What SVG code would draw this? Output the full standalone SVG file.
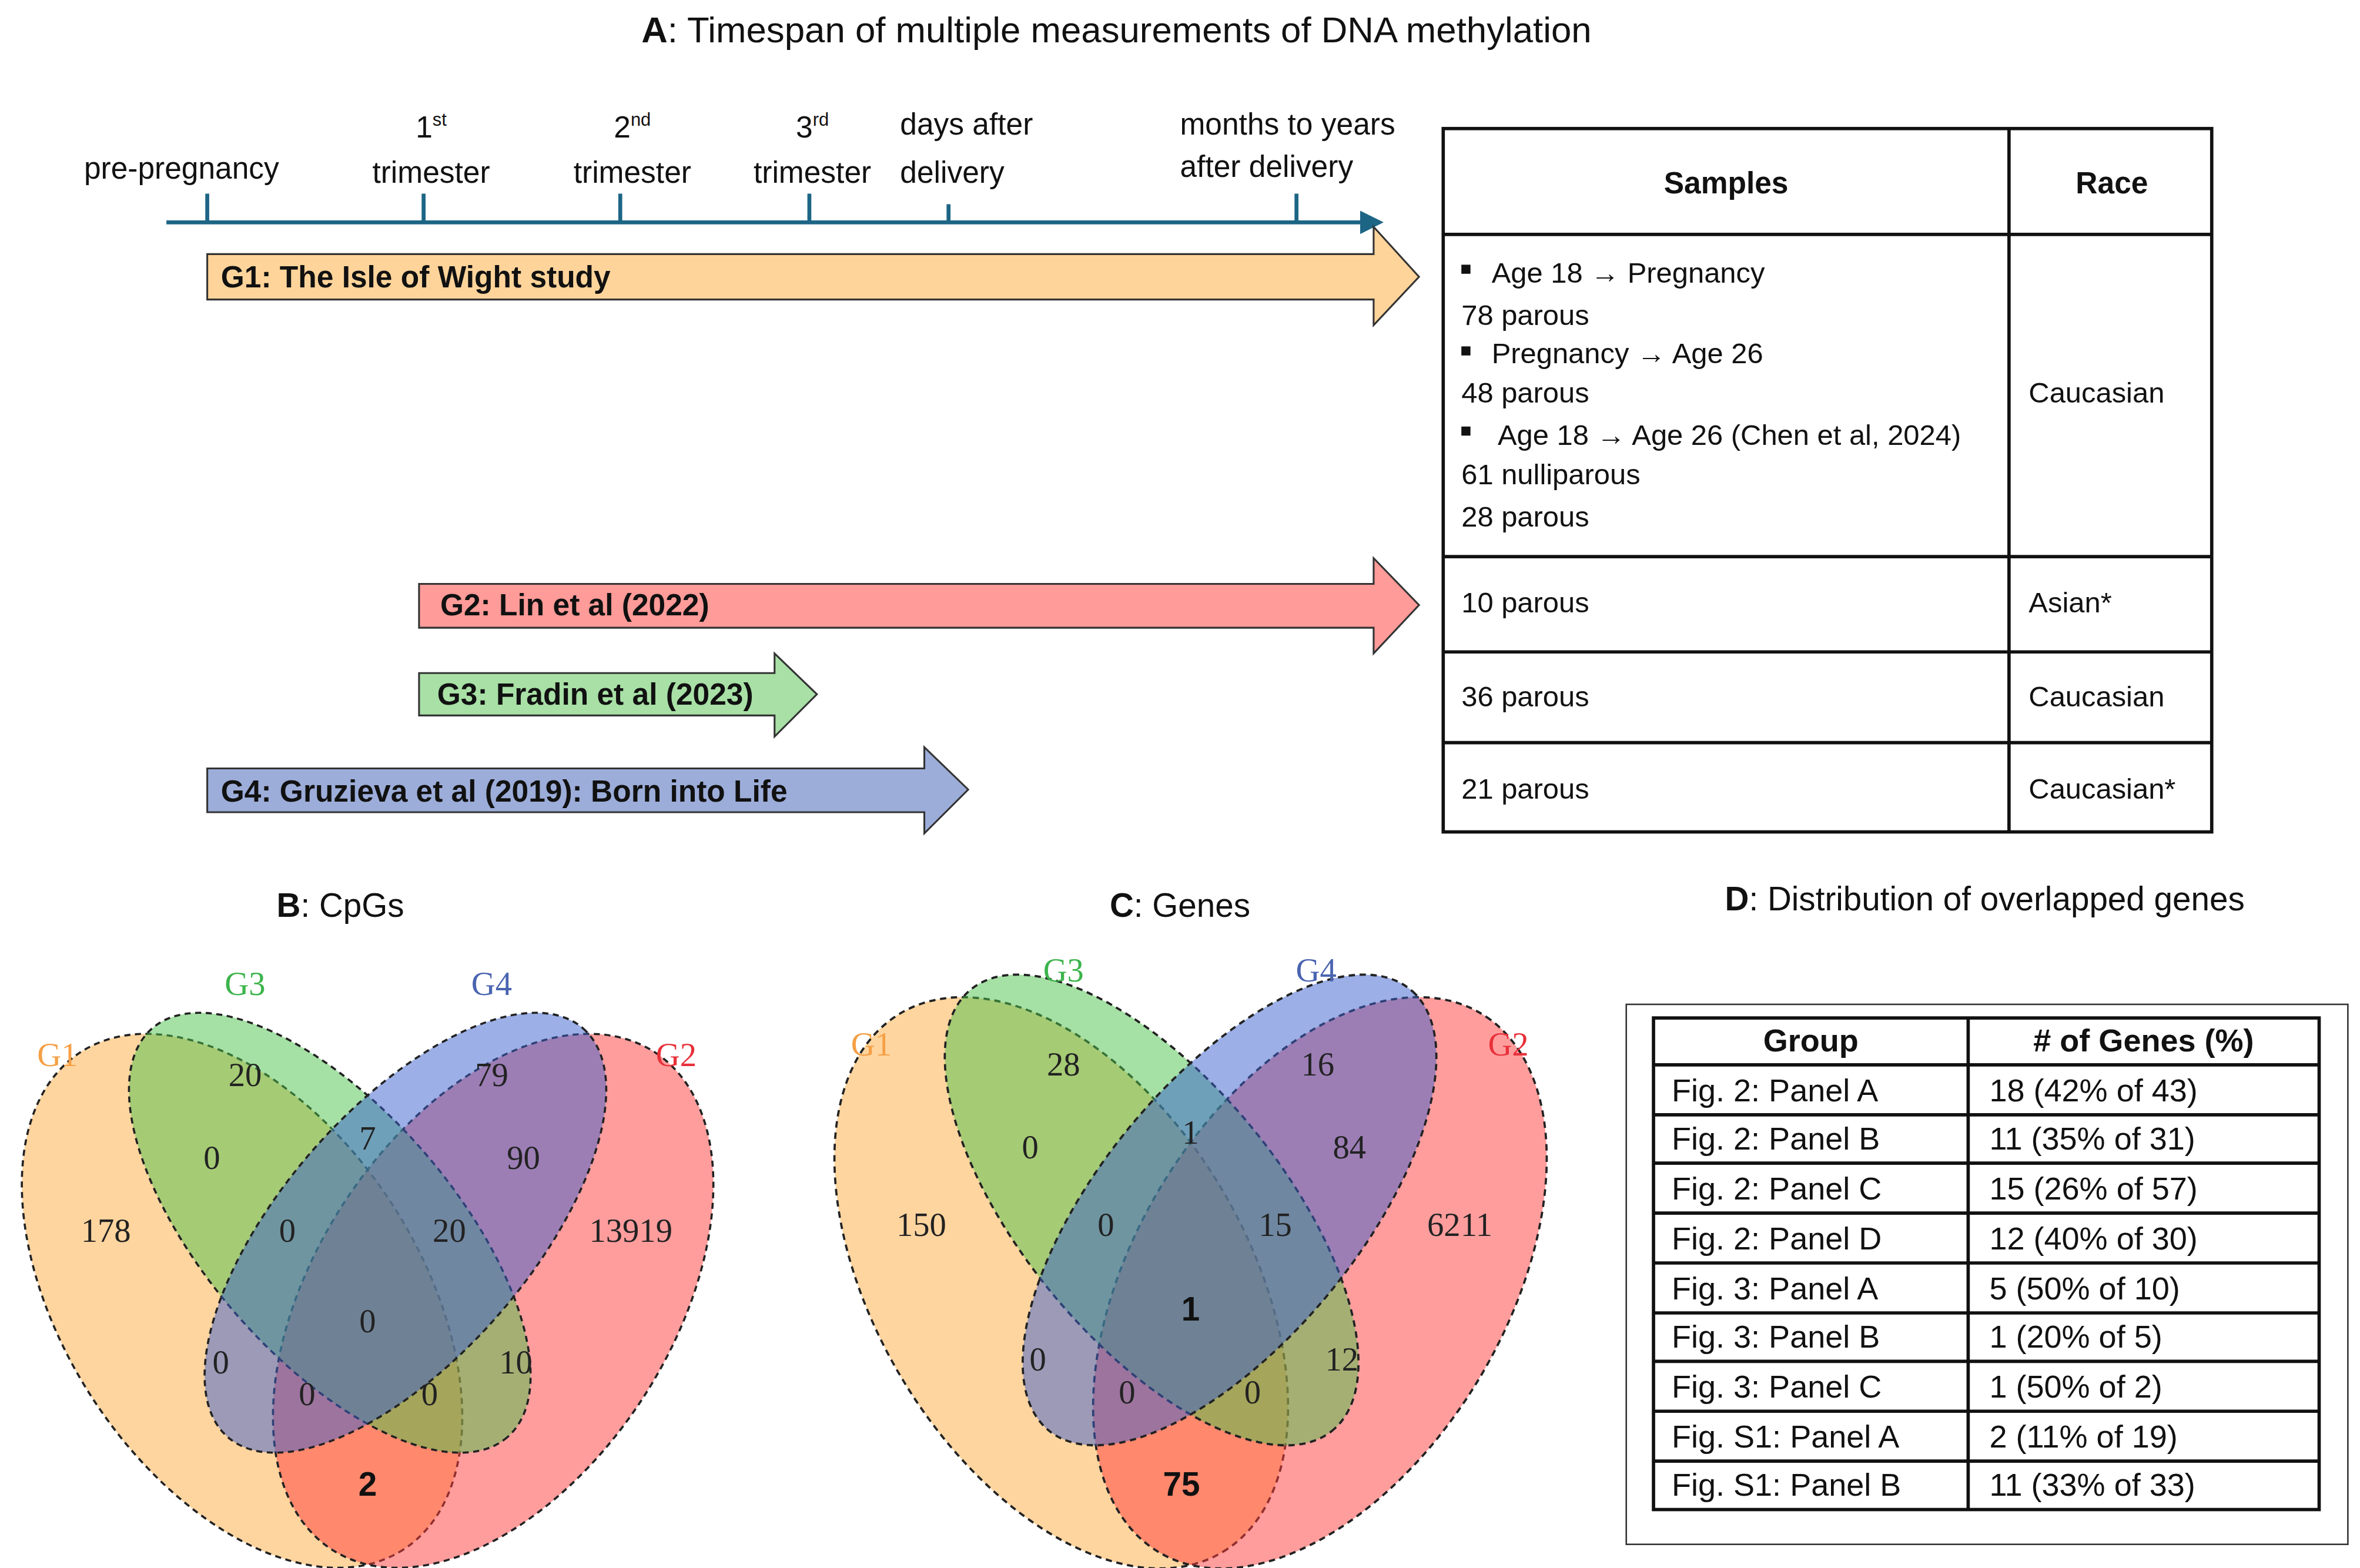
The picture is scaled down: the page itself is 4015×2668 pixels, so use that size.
<svg xmlns="http://www.w3.org/2000/svg" width="4015" height="2668" viewBox="0 0 4015 2668">
<style>
.t{font-family:"Liberation Sans",Arial,sans-serif;fill:#111}
.b{font-weight:bold}
.ax{stroke:#1d6585;stroke-width:2.6;fill:none}
.arr{stroke:#333;stroke-width:1.2}
.tb{fill:none;stroke:#111;stroke-width:2.2}
.v{stroke:#222;stroke-width:1.4;stroke-dasharray:4 3;fill-opacity:0.5}
.vn{font-family:"Liberation Serif","Times New Roman",serif;font-size:22px;fill:#222;text-anchor:middle}
.vl{font-family:"Liberation Serif","Times New Roman",serif;font-size:22px;text-anchor:middle}
.c{text-anchor:middle}
</style>
<defs>
<marker id="ah" markerWidth="6" markerHeight="6" refX="5" refY="3" orient="auto" markerUnits="strokeWidth"><path d="M0,0 L6,3 L0,6 Z" fill="#1d6585"/></marker>
</defs>
<rect width="4015" height="2668" fill="#fff"/>
<g transform="scale(2.5737)">
<g id="titleA"><text class="t c" x="738" y="28" font-size="24"><tspan class="b">A</tspan>: Timespan of multiple measurements of DNA methylation</text></g>
<g id="timeline">
<path class="ax" d="M110,147 H912" marker-end="url(#ah)"/>
<path class="ax" d="M137,147 V128 M280,147 V128 M410,147 V128 M535,147 V128 M627,147 V135 M857,147 V128"/>
<g class="t" font-size="20">
<text x="120" y="118" class="c">pre-pregnancy</text>
<text x="285" y="91" class="c">1<tspan font-size="12" dy="-8">st</tspan></text>
<text x="285" y="121" class="c">trimester</text>
<text x="418" y="91" class="c">2<tspan font-size="12" dy="-8">nd</tspan></text>
<text x="418" y="121" class="c">trimester</text>
<text x="537" y="91" class="c">3<tspan font-size="12" dy="-8">rd</tspan></text>
<text x="537" y="121" class="c">trimester</text>
<text x="595" y="89">days after</text>
<text x="595" y="121">delivery</text>
<text x="780" y="89">months to years</text>
<text x="780" y="117">after delivery</text>
</g>
</g>
<g id="G1arrow"><path class="arr" fill="#ffd49a" d="M137,168 H908 V150 L938,183 L908,215 V198 H137 Z"/><text class="t b" x="146" y="190" font-size="20">G1: The Isle of Wight study</text></g>
<g id="G2arrow"><path class="arr" fill="#ff9b98" d="M277,386 H908 V369 L938,400 L908,432 V415 H277 Z"/><text class="t b" x="291" y="407" font-size="20">G2: Lin et al (2022)</text></g>
<g id="G3arrow"><path class="arr" fill="#a8e0a6" d="M277,445 H512 V432 L540,459 L512,487 V473 H277 Z"/><text class="t b" x="289" y="466" font-size="20">G3: Fradin et al (2023)</text></g>
<g id="G4arrow"><path class="arr" fill="#9cadd9" d="M137,508 H611 V494 L640,522 L611,551 V537 H137 Z"/><text class="t b" x="146" y="530" font-size="20">G4: Gruzieva et al (2019): Born into Life</text></g>
<g id="tableA">
<rect class="tb" x="954" y="85" width="508" height="465"/>
<path class="tb" d="M1328,85 V550 M954,155 H1462 M954,368 H1462 M954,431 H1462 M954,491 H1462"/>
<g class="t" font-size="19">
<text x="1141" y="128" class="c b" font-size="20">Samples</text>
<text x="1396" y="128" class="c b" font-size="20">Race</text>
<rect x="966" y="175" width="6" height="6" fill="#111"/>
<text x="986" y="187">Age 18 → Pregnancy</text>
<text x="966" y="215">78 parous</text>
<rect x="966" y="229" width="6" height="6" fill="#111"/>
<text x="986" y="240">Pregnancy → Age 26</text>
<text x="966" y="266">48 parous</text>
<rect x="966" y="282" width="6" height="6" fill="#111"/>
<text x="990" y="294">Age 18 → Age 26 (Chen et al, 2024)</text>
<text x="966" y="320">61 nulliparous</text>
<text x="966" y="348">28 parous</text>
<text x="1341" y="266">Caucasian</text>
<text x="966" y="405">10 parous</text>
<text x="1341" y="405">Asian*</text>
<text x="966" y="467">36 parous</text>
<text x="1341" y="467">Caucasian</text>
<text x="966" y="528">21 parous</text>
<text x="1341" y="528">Caucasian*</text>
</g>
</g>
<g id="titleB"><text class="t c" x="225" y="606" font-size="22"><tspan class="b">B</tspan>: CpGs</text></g>
<g id="titleC"><text class="t c" x="780" y="606" font-size="22"><tspan class="b">C</tspan>: Genes</text></g>
<g id="titleD"><text class="t c" x="1312" y="602" font-size="22"><tspan class="b">D</tspan>: Distribution of overlapped genes</text></g>
<g id="vennB">
<ellipse class="v" fill="#ffac40" cx="160" cy="860" rx="196" ry="118" transform="rotate(57 160 860)"/>
<ellipse class="v" fill="#ff3b3b" cx="326" cy="860" rx="196" ry="118" transform="rotate(-57 326 860)"/>
<ellipse class="v" fill="#4cc24c" cx="218" cy="815" rx="179" ry="82" transform="rotate(49 218 815)"/>
<ellipse class="v" fill="#3a5fcd" cx="268" cy="815" rx="179" ry="82" transform="rotate(-49 268 815)"/>
<text class="vl" x="38" y="705" fill="#f5a045">G1</text>
<text class="vl" x="162" y="658" fill="#3cb44b">G3</text>
<text class="vl" x="325" y="658" fill="#4a64b0">G4</text>
<text class="vl" x="447" y="705" fill="#e8313a">G2</text>
<text class="vn" x="70" y="821">178</text><text class="vn" x="162" y="718">20</text><text class="vn" x="325" y="718">79</text><text class="vn" x="417" y="821">13919</text>
<text class="vn" x="140" y="773">0</text><text class="vn" x="243" y="760">7</text><text class="vn" x="346" y="773">90</text>
<text class="vn" x="190" y="821">0</text><text class="vn" x="297" y="821">20</text><text class="vn" x="243" y="881">0</text>
<text class="vn" x="146" y="908">0</text><text class="vn" x="341" y="908">10</text><text class="vn" x="203" y="929">0</text><text class="vn" x="284" y="929">0</text>
<text class="t c b" x="243" y="989" font-size="22">2</text>
</g>
<g id="vennC">
<g transform="translate(787,1030) scale(1.03,1.07) translate(-243,-1030)">
<ellipse class="v" fill="#ffac40" cx="160" cy="860" rx="196" ry="118" transform="rotate(57 160 860)"/>
<ellipse class="v" fill="#ff3b3b" cx="326" cy="860" rx="196" ry="118" transform="rotate(-57 326 860)"/>
<ellipse class="v" fill="#4cc24c" cx="218" cy="815" rx="179" ry="82" transform="rotate(49 218 815)"/>
<ellipse class="v" fill="#3a5fcd" cx="268" cy="815" rx="179" ry="82" transform="rotate(-49 268 815)"/>
</g>
<text class="vl" x="576" y="698" fill="#f5a045">G1</text>
<text class="vl" x="703" y="649" fill="#3cb44b">G3</text>
<text class="vl" x="870" y="649" fill="#4a64b0">G4</text>
<text class="vl" x="997" y="698" fill="#e8313a">G2</text>
<text class="vn" x="609" y="817">150</text><text class="vn" x="703" y="711">28</text><text class="vn" x="871" y="711">16</text><text class="vn" x="965" y="817">6211</text>
<text class="vn" x="681" y="766">0</text><text class="vn" x="787" y="756">1</text><text class="vn" x="892" y="766">84</text>
<text class="vn" x="731" y="817">0</text><text class="vn" x="843" y="817">15</text>
<text class="t c b" x="787" y="873" font-size="22">1</text>
<text class="vn" x="686" y="906">0</text><text class="vn" x="887" y="906">12</text><text class="vn" x="745" y="928">0</text><text class="vn" x="828" y="928">0</text>
<text class="t c b" x="781" y="989" font-size="22">75</text>
</g>
<g id="tableD">
<rect x="1075" y="664" width="477" height="357" fill="none" stroke="#333" stroke-width="1"/>
<rect class="tb" x="1093" y="673" width="440" height="325"/>
<path class="tb" d="M1301,673 V998 M1093,704 H1533 M1093,737 H1533 M1093,769 H1533 M1093,802 H1533 M1093,835 H1533 M1093,868 H1533 M1093,900 H1533 M1093,933 H1533 M1093,966 H1533"/>
<g class="t" font-size="21">
<text x="1197" y="695" class="c b">Group</text>
<text x="1417" y="695" class="c b"># of Genes (%)</text>
<text x="1105" y="728">Fig. 2: Panel A</text><text x="1315" y="728">18 (42% of 43)</text>
<text x="1105" y="760">Fig. 2: Panel B</text><text x="1315" y="760">11 (35% of 31)</text>
<text x="1105" y="793">Fig. 2: Panel C</text><text x="1315" y="793">15 (26% of 57)</text>
<text x="1105" y="826">Fig. 2: Panel D</text><text x="1315" y="826">12 (40% of 30)</text>
<text x="1105" y="859">Fig. 3: Panel A</text><text x="1315" y="859">5 (50% of 10)</text>
<text x="1105" y="891">Fig. 3: Panel B</text><text x="1315" y="891">1 (20% of 5)</text>
<text x="1105" y="924">Fig. 3: Panel C</text><text x="1315" y="924">1 (50% of 2)</text>
<text x="1105" y="957">Fig. S1: Panel A</text><text x="1315" y="957">2 (11% of 19)</text>
<text x="1105" y="989">Fig. S1: Panel B</text><text x="1315" y="989">11 (33% of 33)</text>
</g>
</g>
</g>
</svg>
